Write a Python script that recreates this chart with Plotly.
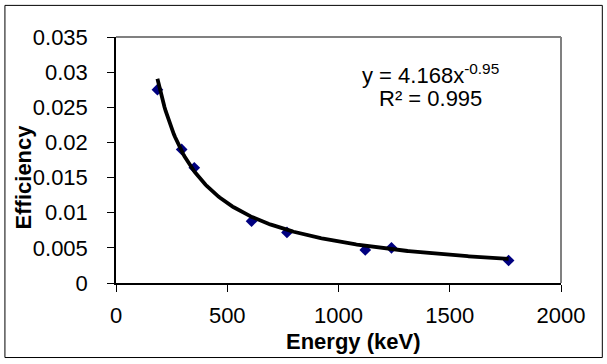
import numpy as np
import plotly.graph_objects as go

# Data
energy_kev = [186.2, 295.2, 351.9, 609.3, 768.4, 1120.3, 1238.1, 1764.5]
efficiency = [0.0275, 0.0190, 0.0164, 0.0088, 0.0072, 0.0047, 0.0050, 0.0032]

# Power-law trendline shown on the chart: y = A * x^B
fit_A = 4.168
fit_B = -0.95
fit_r2 = 0.995

x_ticks = [0, 500, 1000, 1500, 2000]
y_ticks = [0, 0.005, 0.01, 0.015, 0.02, 0.025, 0.03, 0.035]
y_tick_text = ["0", "0.005", "0.01", "0.015", "0.02", "0.025", "0.03", "0.035"]

FONT = "Liberation Sans, Arial, sans-serif"

fit_x = np.linspace(min(energy_kev), max(energy_kev), 300)
fit_y = fit_A * fit_x ** fit_B

fig = go.Figure()
fig.add_trace(go.Scatter(
    x=energy_kev, y=efficiency, mode="markers",
    marker=dict(symbol="diamond", size=9, color="#000080",
                line=dict(width=0)),
    showlegend=False))
fig.add_trace(go.Scatter(
    x=fit_x, y=fit_y, mode="lines",
    line=dict(color="black", width=3.8),
    showlegend=False))

L, R, T, B = 116, 46.3, 36.7, 80.7
W, H = 607, 364
pw, ph = W - L - R, H - T - B

def px2paper_x(px):
    return (px - L) / pw

def px2paper_y(py):
    return (H - B - py) / ph

fig.update_layout(
    width=W, height=H,
    margin=dict(l=L, r=R, t=T, b=B, pad=0),
    paper_bgcolor="white", plot_bgcolor="white",
    font=dict(family=FONT, size=22, color="black"),
    xaxis=dict(range=[0, 2000], tickvals=x_ticks, ticks="outside",
               ticklen=7, tickwidth=1, tickcolor="black",
               showline=True, linecolor="black", linewidth=1.5,
               showgrid=False, zeroline=False,
               tickfont=dict(family=FONT, size=22),
               ticklabelstandoff=5),
    yaxis=dict(range=[0, 0.035], tickvals=y_ticks, ticktext=y_tick_text,
               ticks="outside", ticklen=7, tickwidth=1, tickcolor="black",
               showline=True, linecolor="black", linewidth=1.5,
               showgrid=False, zeroline=False,
               tickfont=dict(family=FONT, size=22),
               ticklabelstandoff=15),
    shapes=[
        dict(type="line", xref="paper", yref="paper", x0=0, x1=1, y0=1, y1=1,
             line=dict(color="#808080", width=2)),
        dict(type="line", xref="paper", yref="paper", x0=1, x1=1, y0=0, y1=1,
             line=dict(color="#808080", width=2)),
        dict(type="rect", xref="paper", yref="paper",
             x0=px2paper_x(5), x1=px2paper_x(602),
             y0=px2paper_y(358), y1=px2paper_y(5),
             line=dict(color="black", width=1)),
    ],
    annotations=[
        dict(text=f"y = {fit_A}x<sup>{fit_B}</sup>", x=1412, y=0.0297,
             xref="x", yref="y", showarrow=False, xanchor="center",
             yanchor="middle", font=dict(family=FONT, size=22)),
        dict(text=f"R² = {fit_r2}", x=1412, y=0.0262,
             xref="x", yref="y", showarrow=False, xanchor="center",
             yanchor="middle", font=dict(family=FONT, size=22)),
        dict(text="<b>Efficiency</b>", textangle=-90,
             x=px2paper_x(24), y=px2paper_y(176.5), xref="paper", yref="paper",
             showarrow=False, xanchor="center", yanchor="middle",
             font=dict(family=FONT, size=22)),
        dict(text="<b>Energy (keV)</b>",
             x=px2paper_x(353.3), y=px2paper_y(342), xref="paper", yref="paper",
             showarrow=False, xanchor="center", yanchor="middle",
             font=dict(family=FONT, size=22)),
    ],
)

fig.write_html("out.html", config={"displayModeBar": False},
               post_script="document.body.style.margin='0px';document.body.style.overflow='hidden';")
